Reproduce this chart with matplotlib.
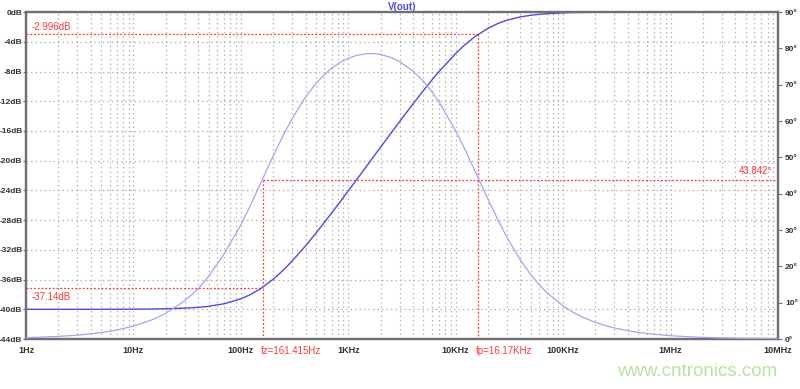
import matplotlib.pyplot as plt

# frequency points (Hz)
freq = [1, 2, 3, 4, 5, 7, 10, 15, 20, 30, 40, 50, 70, 100, 120, 150, 200, 250,
        300, 400, 500, 600, 700, 850, 1e3, 1.2e3, 1.5e3, 1.7e3, 2e3, 2.5e3,
        3e3, 4e3, 5e3, 6e3, 7e3, 1e4, 1.2e4, 1.5e4, 2e4, 2.5e4, 3e4, 4e4,
        5e4, 6e4, 7e4, 1e5, 1.2e5, 1.5e5, 2e5, 2.5e5, 3e5, 4e5, 5e5, 7e5,
        1e6, 1.5e6, 2e6, 3e6, 5e6, 1e7]
# magnitude, dB (solid trace)
mag_db = [-40.0, -40.0, -40.0, -40.0, -40.0, -39.99, -39.98, -39.96, -39.93,
          -39.85, -39.74, -39.60, -39.25, -38.59, -38.09, -37.30, -35.96,
          -34.69, -33.51, -31.46, -29.75, -28.29, -27.04, -25.43, -24.06,
          -22.52, -20.63, -19.56, -18.18, -16.28, -14.75, -12.37, -10.57,
          -9.15, -8.00, -5.57, -4.48, -3.34, -2.18, -1.51, -1.10, -0.65,
          -0.43, -0.30, -0.23, -0.11, -0.07, -0.05, -0.03, -0.02, -0.01,
          0.0, 0.0, 0.0, 0.0, 0.0, 0.0, 0.0, 0.0, 0.0]
# phase, degrees (light trace)
phase_deg = [0.36, 0.71, 1.06, 1.42, 1.77, 2.48, 3.55, 5.31, 7.06, 10.53,
             13.78, 17.21, 23.45, 31.43, 36.20, 42.37, 50.40, 56.26, 60.66,
             66.61, 70.34, 72.81, 74.54, 76.24, 77.28, 78.09, 78.55, 78.57,
             78.33, 77.50, 76.39, 73.77, 70.94, 68.07, 65.23, 57.30, 52.60,
             46.48, 38.44, 32.48, 27.97, 21.74, 17.71, 14.91, 12.85, 9.08,
             7.58, 6.08, 4.56, 3.65, 3.05, 2.29, 1.83, 1.31, 0.91, 0.61,
             0.46, 0.30, 0.18, 0.09]

# cursor readouts
fz, fz_db = 161.415, -37.14
fp, fp_db = 16170, -2.996
cur_phase = 43.842

db_ticks = [0, -4, -8, -12, -16, -20, -24, -28, -32, -36, -40, -44]
deg_ticks = [0, 10, 20, 30, 40, 50, 60, 70, 80, 90]
f_ticks = [1, 10, 100, 1e3, 1e4, 1e5, 1e6, 1e7]
f_labels = ['1Hz', '10Hz', '100Hz', '1KHz', '10KHz', '100KHz', '1MHz', '10MHz']

plt.rcParams['font.family'] = ['Liberation Sans', 'DejaVu Sans']

fig = plt.figure(figsize=(8, 3.89), dpi=100)
ax = fig.add_axes([0.0325, 0.1285, 0.94, 0.8405])
ax2 = ax.twinx()

red = '#ff3838'
grid_c = '#b4b4b4'
spine_c = '#707070'
dots = (0, (1.2, 2.4))
fs = 6.0

ax.set_xscale('log')
ax.set_xlim(1, 1e7)
ax.set_ylim(-44, 0)
ax2.set_ylim(0, 90)

# grid
ax.set_xticks(f_ticks)
ax.set_xticks([m * d for d in f_ticks[:-1] for m in range(2, 10)], minor=True)
ax.set_xticklabels(f_labels)
ax.set_yticks(db_ticks)
ax.set_yticklabels(['%ddB' % v for v in db_ticks])
ax.grid(True, which='both', axis='x', color=grid_c, linestyle=dots, linewidth=0.9)
ax.grid(True, which='major', axis='y', color=grid_c, linestyle=dots, linewidth=0.9)
ax.set_axisbelow(True)

ax.plot(freq, mag_db, color='#4c4ce0', linewidth=1.0, zorder=3)
ax2.plot(freq, phase_deg, color='#a4a4f2', linewidth=0.9, zorder=3)

# cursors
cur = dict(color=red, linestyle=(0, (1.5, 1.5)), linewidth=0.9)
ax.plot([1, fz], [fz_db, fz_db], **cur)
ax.plot([1, fp], [fp_db, fp_db], **cur)
ax.plot([fp, fp], [fp_db, -44], **cur)
ax2.plot([fz, fz], [cur_phase, 0], **cur)
ax2.plot([fz, 1e7], [cur_phase, cur_phase], **cur)

lab = dict(color=red, fontsize=7)
ax.text(1.12, fp_db + 0.3, '-2.996dB', va='bottom', **lab)
ax.text(1.12, fz_db - 0.5, '-37.14dB', va='top', **lab)
ax2.text(8.8e6, cur_phase + 1.0, '43.842°', va='bottom', ha='right', **lab)
ax.text(fz * 0.95, -44.9, 'fz=161.415Hz', va='top', ha='left', **lab)
ax.text(fp * 0.95, -44.9, 'fp=16.17KHz', va='top', ha='left', **lab)

ax2.set_yticks(deg_ticks)
ax2.set_yticklabels(['%d°' % v for v in deg_ticks])

for a in (ax, ax2):
    a.tick_params(which='both', length=0)
    for s in a.spines.values():
        s.set_color(spine_c)
        s.set_linewidth(1.6)
ax.spines['top'].set_color('#9a9a9a')
ax.tick_params(axis='both', labelsize=fs, labelcolor='#333333')
ax.tick_params(axis='y', direction='out', length=2, color=spine_c, pad=0.5)
ax2.tick_params(axis='y', labelsize=fs, labelcolor='#333333', length=3,
                color=spine_c, pad=2)
ax.tick_params(axis='x', which='major', labelsize=6.5, pad=5)
for t in ax.get_yticklabels() + ax.get_xticklabels() + ax2.get_yticklabels():
    t.set_fontweight('bold')

ax.set_title('V(out)', color='#4c4ce0', fontsize=7, fontweight='bold', pad=1)

fig.text(0.972, 0.022, 'www.cntronics.com', color='#b8e2a4', fontsize=13.5,
         ha='right', va='bottom')

fig.savefig('out.png', dpi=100)
